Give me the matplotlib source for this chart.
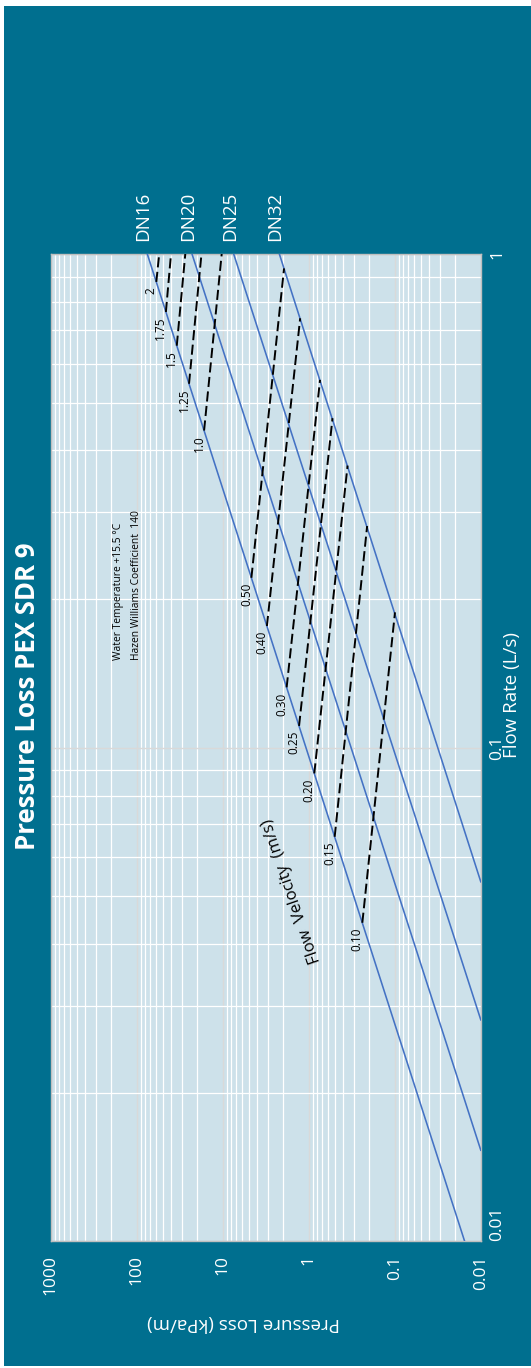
import matplotlib
matplotlib.use("Agg")
import numpy as np
import matplotlib.pyplot as plt
from matplotlib.patches import Rectangle
from matplotlib.ticker import LogLocator, NullFormatter

plt.rcParams['font.family'] = ['Open Sans', 'DejaVu Sans']

# pipe lines, read where they meet the plot frame
pipes = ['DN16', 'DN20', 'DN25', 'DN32']
pipe_flow = [[0.01, 1.0], [0.0153, 1.0], [0.0281, 1.0], [0.0535, 1.0]]
pipe_loss = [[0.0154, 75.5], [0.01, 22.8], [0.01, 7.47], [0.01, 2.2]]

# flow velocity lines (m/s): start on DN16, end on DN32 or at the top edge
velocities = ['0.10', '0.15', '0.20', '0.25', '0.30', '0.40', '0.50',
              '1.0', '1.25', '1.5', '1.75', '2']
vel_flow_start = [0.0442, 0.0660, 0.0887, 0.1107, 0.1325, 0.1764, 0.2209,
                  0.439, 0.546, 0.652, 0.763, 0.878]
vel_loss_start = [0.2385, 0.500, 0.863, 1.298, 1.81, 3.07, 4.65,
                  16.5, 24.7, 34.3, 45.9, 59.3]
vel_flow_end = [0.188, 0.2812, 0.3728, 0.465, 0.556, 0.741, 0.935,
                1.0, 1.0, 1.0, 1.0, 1.0]
vel_loss_end = [0.0995, 0.2097, 0.354, 0.53, 0.74, 1.26, 1.94,
                10.3, 17.7, 27.3, 40.0, 54.9]

loss_ticks = [1000, 100, 10, 1, 0.1, 0.01]
loss_labels = ['1000', '100', '10', '1', '0.1', '0.01']
flow_ticks = [0.01, 0.1, 1]
flow_labels = ['0.01', '0.1', '1']

W, H = 531, 1368
teal = '#006F8F'


def px(x, y):
    return x / W, 1 - y / H


fig = plt.figure(figsize=(W / 100, H / 100), dpi=100)
fig.patch.set_facecolor('white')
fig.add_artist(Rectangle((4 / W, 2 / H), 1, (H - 8) / H, transform=fig.transFigure,
                         facecolor=teal, edgecolor='none', zorder=0))

ax = fig.add_axes([50.8 / W, (H - 1241.4) / H, 430 / W, 987.4 / H])
ax.set_facecolor('#CDE1EA')
ax.set_xscale('log')
ax.set_yscale('log')
ax.set_xlim(1000, 0.01)
ax.set_ylim(0.01, 1)

for a in (ax.xaxis, ax.yaxis):
    a.set_minor_locator(LogLocator(base=10, subs=np.arange(2, 10), numticks=100))
    a.set_minor_formatter(NullFormatter())
ax.grid(which='major', color='#D9D9D9', lw=1.0)
ax.grid(which='minor', color='white', lw=0.9)
ax.set_axisbelow(True)
for s in ax.spines.values():
    s.set_color('#BFBFBF')
    s.set_linewidth(1.0)

ax.set_xticks(loss_ticks, labels=loss_labels)
ax.yaxis.tick_right()
ax.set_yticks(flow_ticks, labels=flow_labels)
ax.tick_params(which='both', length=0)
ax.tick_params(axis='x', labelrotation=90, labelsize=12.5, labelcolor='white', pad=10)
ax.tick_params(axis='y', labelrotation=90, labelsize=12.5, labelcolor='white', pad=6)
for lab in ax.get_yticklabels():
    lab.set_va('center')
ax.get_yticklabels()[0].set_va('bottom')

for name, q, p in zip(pipes, pipe_flow, pipe_loss):
    ax.plot(p, q, color='#4472C4', lw=1.15, zorder=3)
    ax.annotate(name, xy=(p[1], q[1]), xytext=(-4, 13), textcoords='offset pixels',
                rotation=90, ha='center', va='bottom', color='white', fontsize=13.5,
                annotation_clip=False)

for v, q0, p0, q1, p1 in zip(velocities, vel_flow_start, vel_loss_start,
                             vel_flow_end, vel_loss_end):
    ax.plot([p0, p1], [q0, q1], color='black', lw=1.4, ls=(0, (5.2, 2.3)), zorder=4)
    ax.annotate(v, xy=(p0, q0), xytext=(-5, -5), textcoords='offset pixels',
                rotation=90, ha='center', va='top', fontsize=8.5, color='black')

fig.text(*px(291.7, 890.8), 'Flow  Velocity  (m/s)', rotation=109,
         ha='center', va='center', fontsize=12, color='black')
fig.text(*px(118, 660), 'Water Temperature +15.5 \u00b0C', rotation=90,
         ha='center', va='bottom', fontsize=7.4, color='black')
fig.text(*px(137, 660), 'Hazen Williams Coefficient  140', rotation=90,
         ha='center', va='bottom', fontsize=7.4, color='black')

fig.text(*px(28, 696), 'Pressure Loss PEX SDR 9', rotation=90, ha='center',
         va='center', fontsize=18.5, fontweight='bold', color='white')
fig.text(*px(512, 695), 'Flow Rate (L/s)', rotation=90, ha='center',
         va='center', fontsize=13.5, color='white')
fig.text(*px(243, 1322.7), 'Pressure Loss (kPa/m)', rotation=180, ha='center',
         va='center', fontsize=13.5, color='white')

fig.savefig('out.png', dpi=100, facecolor=fig.get_facecolor())
